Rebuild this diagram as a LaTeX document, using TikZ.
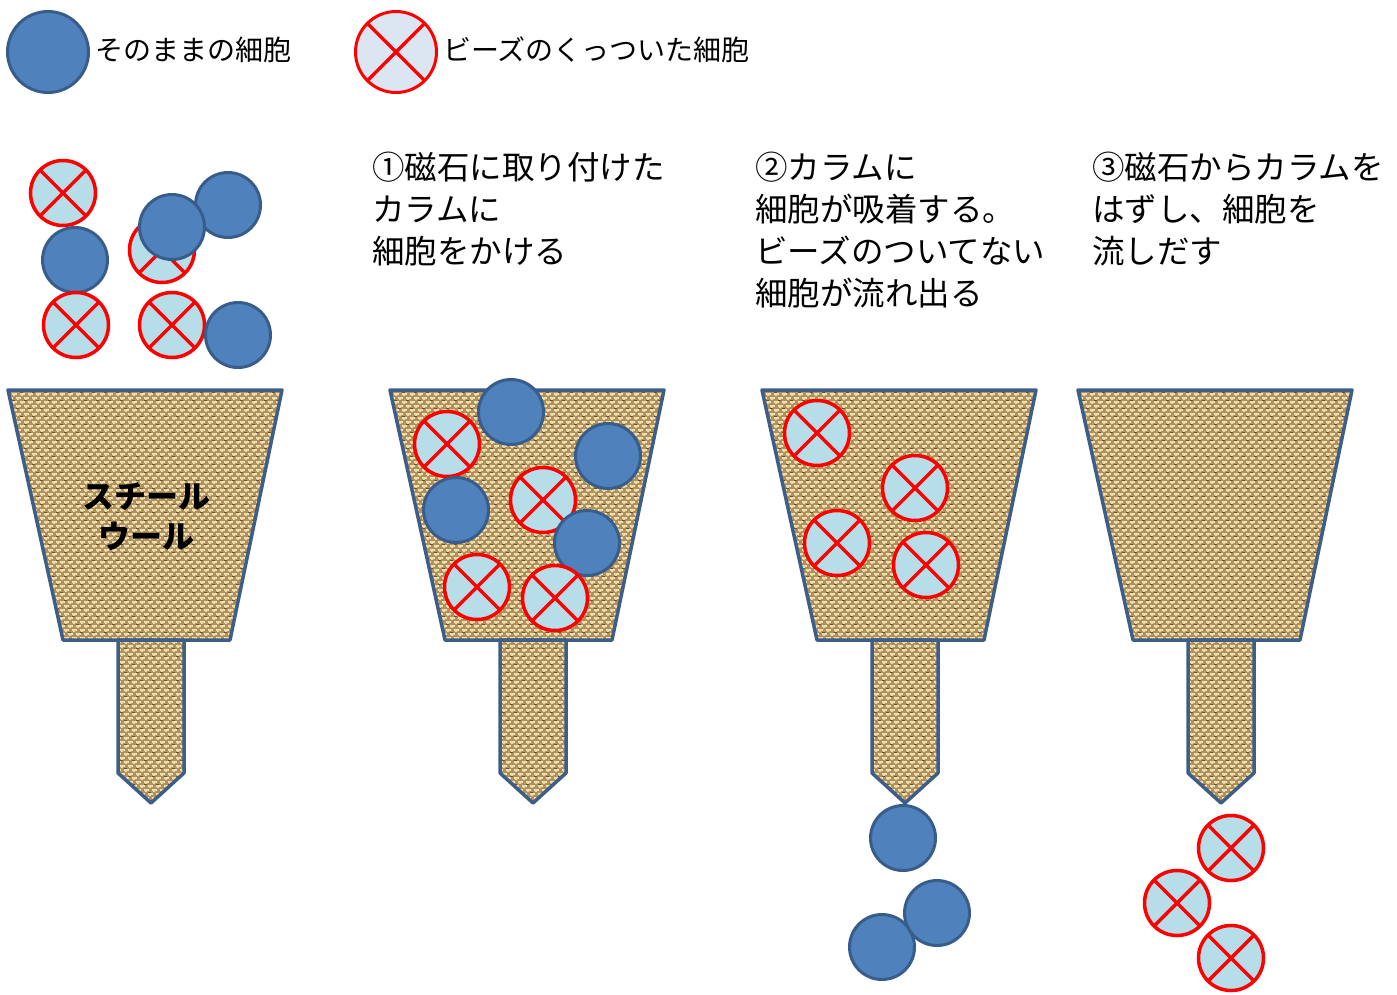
\documentclass[tikz,border=0pt]{standalone}
\usepackage{fontspec}
\newfontfamily\jp{Noto Sans CJK JP}

\definecolor{cellblue}{RGB}{79,129,189}
\definecolor{celledge}{RGB}{56,93,138}
\definecolor{beadfill}{RGB}{183,221,232}
\definecolor{beadpale}{RGB}{220,230,242}
\definecolor{wool}{RGB}{176,144,92}
\definecolor{woollight}{RGB}{242,226,178}
\definecolor{wooldark}{RGB}{110,82,45}
\definecolor{coledge}{RGB}{62,94,138}

\tikzset{
  cell/.style={circle, draw=celledge, fill=cellblue, line width=3pt,
    minimum size=65pt, inner sep=0pt},
  bead/.style={circle, draw=red, fill=beadfill, line width=3.5pt,
    minimum size=65pt, inner sep=0pt,
    path picture={\draw[red, line width=3.5pt]
      (path picture bounding box.north west) -- (path picture bounding box.south east)
      (path picture bounding box.south west) -- (path picture bounding box.north east);}},
  legendtext/.style={anchor=base west, inner sep=0pt, font=\jp\fontsize{28}{33}\selectfont},
  steptext/.style={anchor=north west, align=left, inner sep=0pt, font=\jp\fontsize{32.5}{42}\selectfont},
  coloutline/.style={draw=coledge, line width=3.5pt, line join=round},
}

% column of steel wool: #1 = left edge of the funnel
\newcommand\woolcolumn[1]{%
  \begin{scope}[shift={(#1,390)}]
    \begin{scope}
      \clip (0,0) -- (274,0) -- (222,250) -- (176,250) -- (176,383) -- (143,413)
        -- (110,383) -- (110,250) -- (55,250) -- cycle;
      \fill[wool] (0,0) rectangle (274,414);
      % woven strands
      \foreach \r in {0,8,...,416}{
        \draw[woollight, line width=1.6pt, dash pattern=on 5pt off 3pt] (0,\r) -- (274,\r);
        \draw[woollight, line width=1.6pt, dash pattern=on 5pt off 3pt, dash phase=4pt] (0,\r+4) -- (274,\r+4);
        \draw[wooldark, line width=0.8pt, dash pattern=on 3pt off 9pt, dash phase=\r pt] (0,\r+2) -- (274,\r+2);
      }
      \foreach \c in {0,8,...,272}{
        \draw[woollight!90!wool, line width=1.3pt, dash pattern=on 3pt off 5pt, dash phase=1pt] (\c+2,0) -- (\c+2,414);
        \draw[woollight!90!wool, line width=1.3pt, dash pattern=on 3pt off 5pt, dash phase=5pt] (\c+6,0) -- (\c+6,414);
      }
    \end{scope}
    \draw[coloutline] (0,0) -- (274,0) -- (222,250) -- (55,250) -- cycle;
    \draw[coloutline] (110,250) -- (176,250) -- (176,383) -- (143,413) -- (110,383) -- cycle;
  \end{scope}
}

\begin{document}
\begin{tikzpicture}[x=1pt, y=-1pt]
  \useasboundingbox (0,0) rectangle (1397,994);

  % legend
  \node[cell, minimum size=81pt] (plain) at (48,52) {};
  \node[legendtext] (plaintext) at (95,60) {そのままの細胞};
  \node[bead, fill=beadpale, line width=3pt, minimum size=81pt] (beaded) at (396,52) {};
  \node[legendtext] (beadedtext) at (443,60) {ビーズのくっついた細胞};

  % the four columns
  \woolcolumn{8}
  \woolcolumn{390}
  \woolcolumn{762}
  \woolcolumn{1078}

  \node[align=center, inner sep=0pt, font=\jp\bfseries\fontsize{32}{40}\selectfont]
    (steelwool) at (146,517) {スチール\\ウール};

  % step texts
  \node[steptext] (step1) at (372,152) {①磁石に取り付けた\\カラムに\\細胞をかける};
  \node[steptext] (step2) at (755,152) {②カラムに\\細胞が吸着する。\\ビーズのついてない\\細胞が流れ出る};
  \node[steptext] (step3) at (1092,152) {③磁石からカラムを\\はずし、細胞を\\流しだす};

  % mixed cells before loading
  \node[bead] (a1) at (63,193) {};
  \node[cell] (a2) at (75,260) {};
  \node[bead] (a3) at (76,325) {};
  \node[bead] (a4) at (162,250) {};
  \node[cell] (a5) at (228,205) {};
  \node[cell] (a6) at (172,227) {};
  \node[bead] (a7) at (172,325) {};
  \node[cell] (a8) at (238,335) {};

  % cells on the column
  \node[cell] (b1) at (511,412) {};
  \node[bead] (b2) at (447,444) {};
  \node[cell] (b3) at (608,456) {};
  \node[cell] (b4) at (456,510) {};
  \node[bead] (b5) at (543,500) {};
  \node[cell] (b6) at (587,543) {};
  \node[bead] (b7) at (477,587) {};
  \node[bead] (b8) at (555,598) {};

  % beads held, plain cells flow out
  \node[bead] (c1) at (817,433) {};
  \node[bead] (c2) at (915,488) {};
  \node[bead] (c3) at (837,543) {};
  \node[bead] (c4) at (926,565) {};
  \node[cell] (c5) at (903,838) {};
  \node[cell] (c6) at (882,947) {};
  \node[cell] (c7) at (937,913) {};

  % beads washed out
  \node[bead] (d1) at (1231,848) {};
  \node[bead] (d2) at (1177,903) {};
  \node[bead] (d3) at (1231,958) {};
\end{tikzpicture}
\end{document}
